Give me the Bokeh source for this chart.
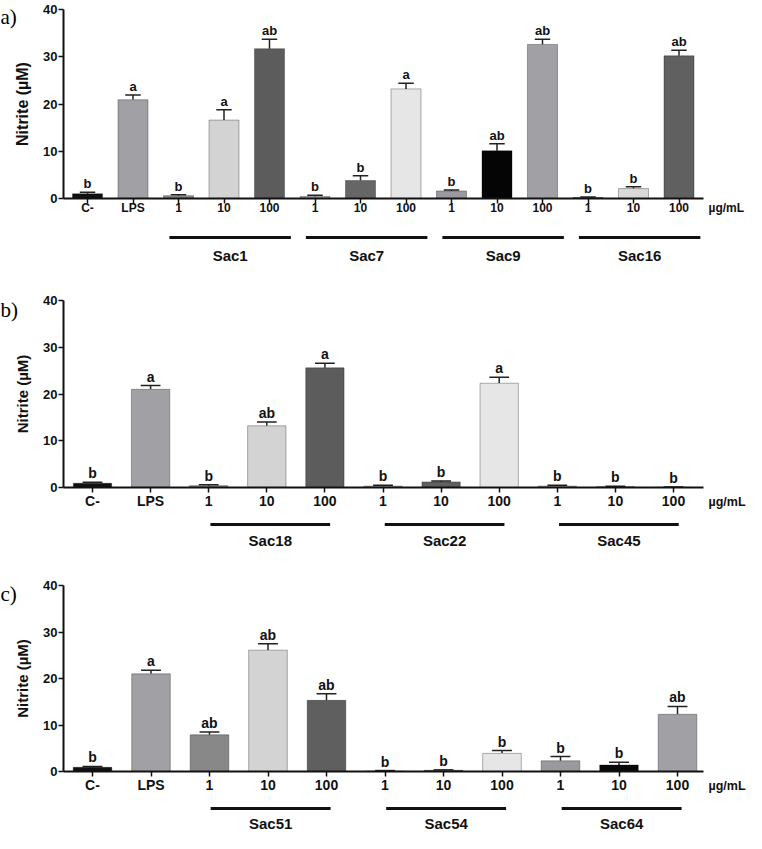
from bokeh.plotting import figure
from bokeh.layouts import column
from bokeh.models import ColumnDataSource, FixedTicker, Range1d
from bokeh.core.properties import value
from bokeh.embed import file_html
from bokeh.resources import INLINE

# ---------------- data ----------------
controls = ["C-", "LPS"]
doses = ["1", "10", "100"]
unit_label = "µg/mL"
y_label = "Nitrite (µM)"
y_ticks = [0, 10, 20, 30, 40]

groups_a = ["Sac1", "Sac7", "Sac9", "Sac16"]
means_a = [1.0, 20.9, 0.6, 16.6, 31.7, 0.4, 3.8, 23.2, 1.6, 10.1, 32.6, 0.2, 2.1, 30.2]
errs_a = [0.3, 1.0, 0.2, 2.2, 2.0, 0.3, 1.0, 1.2, 0.2, 1.5, 1.1, 0.1, 0.4, 1.2]
letters_a = ["b", "a", "b", "a", "ab", "b", "b", "a", "b", "ab", "ab", "b", "b", "ab"]
colors_a = ["#111111", "#a1a1a5", "#8c8c8c", "#d3d3d3", "#5c5c5c", "#a8a8a8", "#666666",
            "#e6e6e6", "#9a9a9e", "#050505", "#a1a1a5", "#444444", "#d9d9d9", "#606060"]

groups_b = ["Sac18", "Sac22", "Sac45"]
means_b = [0.9, 21.0, 0.4, 13.2, 25.6, 0.3, 1.2, 22.3, 0.3, 0.15, 0.05]
errs_b = [0.2, 0.8, 0.2, 0.8, 1.0, 0.2, 0.2, 1.3, 0.2, 0.1, 0.05]
letters_b = ["b", "a", "b", "ab", "a", "b", "b", "a", "b", "b", "b"]
colors_b = ["#111111", "#a1a1a5", "#8a8a8a", "#d3d3d3", "#5c5c5c", "#b0b0b0", "#606060",
            "#e6e6e6", "#aaaaaa", "#222222", "#999999"]

groups_c = ["Sac51", "Sac54", "Sac64"]
means_c = [0.9, 21.0, 7.9, 26.1, 15.3, 0.1, 0.25, 3.9, 2.3, 1.4, 12.3]
errs_c = [0.2, 0.8, 0.6, 1.4, 1.4, 0.1, 0.1, 0.6, 0.9, 0.6, 1.7]
letters_c = ["b", "a", "ab", "ab", "ab", "b", "b", "b", "b", "b", "ab"]
colors_c = ["#111111", "#a1a1a5", "#888888", "#d3d3d3", "#5f5f5f", "#999999", "#555555",
            "#e6e6e6", "#9a9a9e", "#080808", "#a1a1a5"]

FONT = "Liberation Sans"
INK = "#111111"
W = 746


def make_panel(tag, groups, means, errs, letters, colors, H, px_top, px_zero, px_bar0,
               spacing, px_axl, px_axr, line_l, line_r, line_px, label_px, unit_px,
               tag_x, tag_base, fs_tick, fs_unit, fs_letter, fs_group, fs_ylab,
               x_standoff, ylab_standoff):
    n = len(means)
    xs = list(range(n))
    tick_labels = controls + doses * len(groups)
    s = (px_zero - px_top) / 40.0          # pixels per y unit
    xpp = 1.0 / spacing                    # x units per pixel
    ypp = 1.0 / s                          # y units per pixel
    x_range = Range1d(-px_bar0 * xpp, (W - px_bar0) * xpp)
    y_range = Range1d(-(H - px_zero) * ypp, 40 + px_top * ypp)
    ax_l = (px_axl - px_bar0) * xpp
    ax_r = (px_axr - px_bar0) * xpp

    p = figure(width=W, height=H, min_border=0, x_range=x_range, y_range=y_range,
               output_backend="svg", toolbar_location=None, tools="")
    p.outline_line_color = None
    p.grid.grid_line_color = None

    tops = [m + e for m, e in zip(means, errs)]
    src = ColumnDataSource(dict(x=xs, top=means, err_top=tops, color=colors, letter=letters,
                                cl=[x - 0.17 for x in xs], cr=[x + 0.17 for x in xs]))
    p.segment(x0="x", y0="top", x1="x", y1="err_top", source=src,
              line_color="#222222", line_width=1.5)
    p.segment(x0="cl", y0="err_top", x1="cr", y1="err_top", source=src,
              line_color="#222222", line_width=1.5)
    p.vbar(x="x", top="top", width=0.66, bottom=0, source=src, fill_color="color",
           line_color="black", line_alpha=0.3, line_width=1)
    p.text(x="x", y="err_top", text="letter", source=src, text_align="center",
           text_baseline="bottom", y_offset=-1, text_font=value(FONT),
           text_font_style="bold", text_font_size=fs_letter, text_color=INK)

    # axes, fixed at the data origin
    p.xaxis.fixed_location = 0
    p.xaxis.bounds = (ax_l, ax_r)
    p.xaxis.ticker = FixedTicker(ticks=xs)
    p.xaxis.major_label_overrides = {i: t for i, t in enumerate(tick_labels)}
    p.xaxis.minor_tick_line_color = None
    p.xaxis.major_tick_out = 5
    p.xaxis.major_tick_in = 0
    p.xaxis.major_label_standoff = x_standoff
    p.xaxis.major_label_text_font_size = fs_tick

    p.yaxis.fixed_location = ax_l
    p.yaxis.bounds = (0, 40)
    p.yaxis.ticker = FixedTicker(ticks=y_ticks)
    p.yaxis.minor_tick_line_color = None
    p.yaxis.major_tick_out = 5
    p.yaxis.major_tick_in = 0
    p.yaxis.major_label_standoff = 1
    p.yaxis.major_label_text_font_size = "13px"
    p.yaxis.axis_label = y_label
    p.yaxis.axis_label_standoff = ylab_standoff
    p.yaxis.axis_label_text_font = FONT
    p.yaxis.axis_label_text_font_style = "bold"
    p.yaxis.axis_label_text_font_size = fs_ylab
    p.yaxis.axis_label_text_color = INK
    for ax in (p.xaxis, p.yaxis):
        ax.axis_line_width = 2
        ax.axis_line_color = INK
        ax.major_tick_line_width = 1.5
        ax.major_tick_line_color = INK
        ax.major_label_text_font = FONT
        ax.major_label_text_font_style = "bold"
        ax.major_label_text_color = INK

    # group lines and names below the axis
    firsts = [2 + 3 * gi for gi in range(len(groups))]
    gx0 = [f + line_l for f in firsts]
    gx1 = [f + 2 + line_r for f in firsts]
    gsrc = ColumnDataSource(dict(x0=gx0, x1=gx1, xm=[(a + b) / 2 for a, b in zip(gx0, gx1)],
                                 name=groups))
    p.segment(x0="x0", x1="x1", y0=-line_px * ypp, y1=-line_px * ypp, source=gsrc,
              line_color=INK, line_width=3)
    p.text(x="xm", y=-label_px * ypp, text="name", source=gsrc, text_align="center",
           text_baseline="middle", text_font=value(FONT), text_font_style="bold",
           text_font_size=fs_group, text_color=INK)
    # unit
    p.text(x=[ax_r + 5 * xpp], y=[-unit_px * ypp], text=[unit_label], text_align="left",
           text_baseline="middle", text_font=value(FONT), text_font_style="bold",
           text_font_size=fs_unit, text_color=INK)
    # panel tag
    p.text(x=[(tag_x - px_bar0) * xpp], y=[40 + (px_top - tag_base) * ypp], text=[tag],
           text_align="left", text_baseline="alphabetic", text_font=value("Liberation Serif"),
           text_font_size="21px", text_color="#000000")
    return p


pa = make_panel("a)", groups_a, means_a, errs_a, letters_a, colors_a,
                274, 9, 198, 87, 45.5, 63, 703, -0.2, 0.47, 39, 57, 9,
                0, 16, "12px", "12px", "13px", "15px", "16px", -3, 9)
pb = make_panel("b)", groups_b, means_b, errs_b, letters_b, colors_b,
                285, 26, 213, 92, 58.1, 63, 703, 0.03, 0.09, 37, 53, 14,
                0, 35, "14px", "12.5px", "14px", "15px", "15px", 0, 9)
pc = make_panel("c)", groups_c, means_c, errs_c, letters_c, colors_c,
                274, 26, 212, 92, 58.5, 63, 703, 0.02, 0.07, 37, 52, 14,
                0, 34, "14px", "12.5px", "14px", "15px", "15px", 0, 9)

layout = column(pa, pb, pc, spacing=0)
open("out.html", "w").write(file_html(layout, INLINE))
